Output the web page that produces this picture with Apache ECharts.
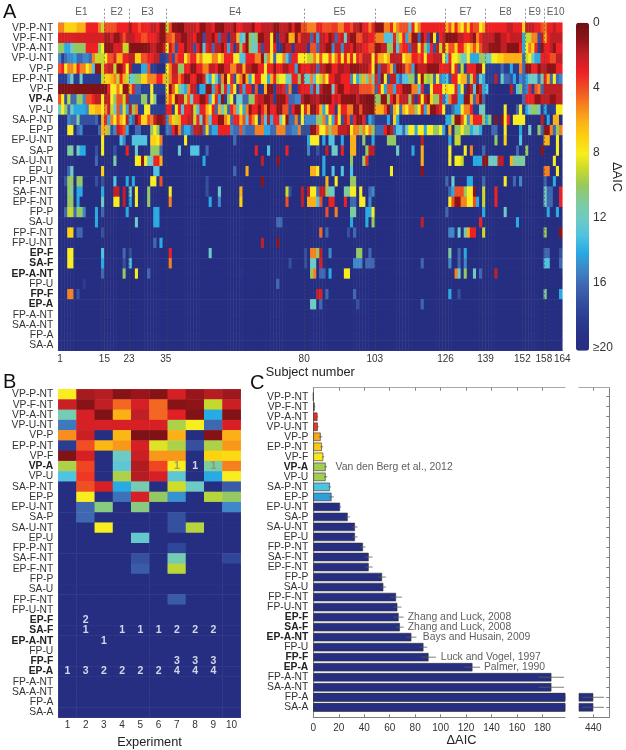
<!DOCTYPE html>
<html><head><meta charset="utf-8">
<script src="https://cdn.jsdelivr.net/npm/echarts@6/dist/echarts.min.js"></script>
<style>html,body{margin:0;padding:0;background:#fff}#c{width:626px;height:750px}</style>
</head><body><div id="c"></div>
<script>
// ---------- shared categories ----------
const models = ['VP-P-NT','VP-F-NT','VP-A-NT','VP-U-NT','VP-P','EP-P-NT','VP-F','VP-A','VP-U','SA-P-NT','EP-P','EP-U-NT','SA-P','SA-U-NT','EP-U','FP-P-NT','SA-F-NT','EP-F-NT','FP-P','SA-U','FP-F-NT','FP-U-NT','EP-F','SA-F','EP-A-NT','FP-U','FP-F','EP-A','FP-A-NT','SA-A-NT','FP-A','SA-A'];
const boldModels = ['VP-A','EP-F','SA-F','EP-A-NT','FP-F','EP-A'];
const experimentEnds = [0,15,23,35,80,103,126,139,152,158,164];
const experimentNames = ['E1','E2','E3','E4','E5','E6','E7','E8','E9','E10'];
const subjectTicks = [1,15,23,35,80,103,126,139,152,158,164];
const colorbarTicks = [0,4,8,12,16,20];

// ---------- panel A: each row is [firstSubject, dAIC] runs; a run lasts until the next one starts ----------
const rVPPNT=[[1,5],[3,7],[7,6],[10,3],[14,5],[15,9],[16,4],[20,3],[24,1.5],[25,3],[27,4],[28,3],[31,2],[33,3],[34,1],[36,9],[37,4],[38,1],[40,0.5],[42,2],[46,3],[47,1],[49,2],[51,3],[52,1],[54,0.8],[55,2],[58,1],[59,3],[61,2],[64,1],[65,3],[67,2],[71,1],[73,2],[76,1],[77,3],[78,1],[80,4],[82,5],[85,3],[87,4],[90,3.5],[92,5],[94,3],[96,4],[97,2],[99,1],[100,3],[102,5],[103,3],[104,1],[107,5],[109,3],[110,7],[111,5],[112,4],[115,13],[116,3],[117,8],[118,5],[119,3],[127,6],[128,4],[129,7],[130,3],[131,6],[132,8],[133,4],[134,7],[135,3],[136,4],[138,8],[139,6],[140,3],[147,2],[149,3],[152,7],[153,2],[156,3],[158,4],[159,5],[160,3],[162,2],[163,3]];
const rVPFNT=[[1,2.5],[16,1.5],[18,2.5],[19,1],[21,2],[22,4],[23,2],[26,3],[28,4],[30,3],[33,2],[34,1],[36,4],[38,5],[39,2],[41,1],[43,2],[45,3],[46,1],[48,17],[49,2],[51,1],[52,3],[53,16],[54,2],[56,18],[57,2],[59,6],[60,13],[61,12],[62,1],[63,10],[64,12],[65,10],[66,1],[68,2],[70,8],[71,1],[72,18],[73,2],[75,1],[76,6],[78,1],[79,4],[80,2],[83,16],[84,2],[85,14],[86,2],[88,3],[89,1],[90,2],[91,16],[92,3],[93,2],[94,12],[95,2],[96,1],[98,4],[100,2],[102,3],[104,5],[107,13],[110,3],[111,10],[112,7],[113,3],[114,14],[115,5],[116,1],[118,16],[119,1],[120,3],[121,17],[122,1],[123,8],[124,18],[125,3],[126,2],[127,0.5],[129,1],[131,2],[133,3],[135,2],[136,1],[137,5],[138,3],[139,2],[143,1],[145,2],[147,3],[148,2],[152,14],[153,9],[155,5],[157,17],[158,2],[159,6],[160,3],[161,2]];
const rVPANT=[[1,10],[3,14],[5,12],[6,10],[10,3],[14,10],[15,8],[16,1],[19,2.5],[22,9],[24,1],[25,0.7],[30,1],[31,2],[33,1],[35,2],[36,8],[37,2],[38,4],[39,17],[40,3],[42,1],[43,2],[45,17],[46,3],[47,1],[48,13],[49,3],[50,2],[51,16],[52,2],[54,1],[55,3],[56,14],[57,3],[58,18],[59,2],[60,10],[61,3],[62,1],[63,10],[64,12],[66,3],[67,17],[68,2],[70,8],[71,3],[72,18],[74,1],[75,2],[77,18],[78,2],[80,2],[82,18],[83,4],[85,16],[86,2],[88,1],[90,15],[91,2],[93,15],[94,2],[96,3],[97,1],[98,2],[100,3],[102,4],[104,1],[106,2],[108,10],[110,2],[111,13],[112,4],[113,3],[115,16],[116,2],[118,8],[119,3],[120,10],[121,14],[122,3],[123,17],[124,2],[125,9],[126,2],[127,7],[128,4],[130,7],[131,3],[133,6],[134,8],[135,6],[136,4],[137,7],[138,4],[139,2],[141,1],[145,2],[147,0.8],[151,3],[152,14],[153,8],[154,5],[155,7],[156,3],[157,18],[158,1],[159,3],[161,2],[162,1],[163,3]];
const rVPUNT=[[1,15],[2,18],[3,16],[4,15],[6,14],[7,16],[9,15],[11,16],[12,5],[13,9],[16,8],[17,4],[19,2.5],[20,6],[22,3],[24,2],[26,7],[28,4],[30,3],[32,2],[34,18],[36,17],[37,3],[38,17],[39,4],[40,3],[42,8],[43,5],[44,3],[46,7],[47,5],[48,8],[51,5],[53,8],[54,6],[55,3],[58,8],[60,13],[62,3],[65,5],[67,1],[68,11],[69,5],[70,8],[71,16],[72,8],[74,5],[75,13],[76,16],[77,3],[79,8],[82,9],[84,5],[85,8],[86,4],[87,8],[89,4],[90,8],[91,5],[92,3],[93,8],[94,3],[95,7],[96,3],[97,8],[98,3],[99,4],[100,2],[103,8],[104,3],[105,6],[107,8],[108,6],[109,2],[113,8],[114,6],[116,3],[118,4],[119,3],[120,8],[121,3],[123,2],[126,8],[127,13],[128,3],[129,8],[131,9],[132,12],[134,8],[135,14],[138,10],[140,12],[142,8],[144,7],[146,6],[152,16],[153,9],[154,8],[155,12],[156,14],[158,3],[161,4],[163,2]];
const rVPP=[[1,4],[2,3],[3,8],[4,5],[6,7],[7,3],[8,5],[10,8],[11,6],[12,13],[13,1],[15,9],[16,3],[17,2],[19,9],[20,1],[22,3],[23,8],[24,2],[25,18],[28,14],[30,4],[31,18],[33,20],[36,8],[37,5],[38,2],[40,10],[42,3],[44,1],[46,3],[48,5],[50,2],[52,3],[53,1],[55,2.5],[57,5],[59,2],[61,6],[62,2],[64,1],[66,3],[68,8],[69,3],[71,1],[72,3],[74,1.5],[76,3],[78,14],[79,1.5],[80,3],[83,2],[85,16],[86,2],[88,1],[90,3],[92,1.5],[94,2],[96,1],[99,1.5],[102,3],[103,8],[104,1],[105,16],[106,2],[108,4],[109,6],[110,16],[111,1],[113,2],[114,5],[115,4],[116,14],[117,1],[118,2],[121,1],[125,3],[128,2],[129,8],[130,3],[131,17],[132,9],[133,18],[134,3],[137,1],[139,8],[140,18],[145,16],[146,18],[148,14],[149,18],[151,5],[152,16],[153,1],[155,3],[157,1],[158,2],[160,1],[163,3]];
const rEPPNT=[[1,18],[4,15],[5,12],[6,18],[8,12],[9,18],[15,9],[16,7],[18,6],[19,5],[20,9],[21,3],[22,6],[23,9],[24,12],[26,10],[28,7],[30,5],[33,3],[35,6],[36,9],[37,5],[38,2.5],[40,5],[41,3],[42,1],[44,3],[46,1],[48,2.5],[49,12],[50,14],[51,8],[52,12],[53,16],[54,5],[55,1],[56,8],[57,3],[58,17],[59,7],[60,5],[61,1],[62,6],[63,14],[64,8],[65,3],[67,8],[69,14],[70,6],[71,3],[72,9],[73,8],[75,12],[77,3],[79,10],[80,2],[81,12],[83,5],[84,13],[85,8],[86,9],[87,5],[88,8],[89,3],[91,1.5],[93,3],[96,15],[97,8],[98,14],[99,10],[100,6],[101,11],[102,5],[103,11],[104,3],[105,16],[106,1],[107,8],[108,17],[109,2],[111,14],[112,16],[113,13],[115,10],[117,18],[118,8],[119,1],[120,9],[121,10],[122,9],[123,16],[124,8],[125,15],[126,14],[127,13],[128,17],[129,3],[131,8],[132,6],[134,16],[135,9],[136,3],[137,17],[138,12],[139,14],[140,18],[143,2],[144,18],[145,12],[146,16],[148,17],[149,14],[150,18],[151,15],[152,16],[153,14],[154,12],[157,16],[158,11],[159,3],[160,6],[161,16],[162,8],[163,16],[164,15]];
const rVPF=[[1,0.5],[17,3],[18,8],[20,5],[21,8],[22,1],[24,6],[25,3],[26,16],[28,18],[31,8],[32,18],[36,8],[37,1],[38,4],[39,8],[40,10],[41,13],[42,14],[43,5],[44,2],[46,18],[47,14],[49,1],[51,14],[52,4],[53,2],[54,10],[55,3],[56,14],[57,4],[58,8],[59,18],[60,3],[61,14],[62,3],[64,18],[65,4],[66,18],[68,6],[69,1],[71,18],[72,2],[74,3],[75,16],[76,5],[77,18],[79,2],[80,3],[83,15],[84,2],[85,13],[86,2],[87,1],[90,12],[91,3],[92,1],[94,3],[96,2],[99,4],[103,5],[104,16],[105,3],[106,8],[107,14],[108,4],[110,14],[111,3],[113,1],[116,5],[118,13],[119,3],[120,18],[122,8],[123,3],[126,8],[127,7],[128,8],[130,3],[131,14],[132,8],[133,18],[134,1],[135,2],[136,13],[137,1],[138,2],[139,14],[140,13],[141,20],[148,2],[149,18],[150,13],[151,10],[152,16],[153,15],[154,3],[155,18],[156,4],[157,5],[158,16],[159,2]];
const rVPA=[[1,4],[2,8],[3,17],[4,9],[5,16],[7,10],[9,15],[10,4],[12,3],[13,2],[15,8],[16,2],[18,8],[19,10],[20,4],[22,9],[23,2],[24,17],[28,10],[30,18],[31,8],[32,11],[33,20],[36,6],[37,4],[38,7],[39,1],[40,2],[42,9],[43,4],[44,12],[45,3],[47,1],[49,3],[50,14],[51,8],[52,3],[53,14],[54,1],[55,18],[56,10],[57,8],[58,18],[59,12],[61,16],[63,10],[65,3],[66,2],[68,1],[70,2],[71,18],[72,1],[75,3],[76,16],[78,15],[80,2],[81,0.8],[83,1.5],[85,2],[86,1],[87,0.7],[90,3],[91,2],[92,3],[93,1],[96,0.7],[98,2],[99,1],[101,0.5],[104,10],[106,1],[108,10],[109,3],[110,1],[111,5],[112,2],[115,10],[116,2],[117,18],[118,2],[119,8],[120,2],[121,1],[122,7],[123,10],[125,3],[126,16],[127,13],[128,5],[129,2],[131,14],[133,1],[135,6],[136,16],[137,4],[138,1],[139,16],[140,20],[152,16],[153,3],[156,1],[158,2],[161,1],[163,2]];
const rVPU=[[1,12],[2,8],[3,10],[4,16],[5,12],[6,14],[10,15],[11,7],[13,6],[15,8],[16,5],[17,2],[18,9],[19,12],[20,4],[21,15],[22,7],[23,14],[24,2],[25,10],[26,5],[27,18],[29,8],[31,18],[36,3],[38,18],[39,8],[40,3],[41,13],[42,3],[44,2],[45,9],[46,13],[47,3],[49,6],[50,8],[51,3],[52,16],[53,6],[54,12],[55,9],[56,16],[57,3],[58,5],[59,13],[60,8],[61,14],[62,5],[63,1],[64,3],[66,1],[67,3],[68,5],[69,1],[70,3],[72,1],[74,4],[76,17],[77,3],[78,1],[80,8],[81,3],[82,6],[83,1],[85,3],[86,6],[87,14],[88,8],[89,3],[91,18],[92,7],[93,3],[95,5],[97,1],[99,4],[100,1],[102,0.7],[104,6],[107,4],[108,1],[109,17],[110,6],[111,8],[112,16],[113,6],[114,8],[115,5],[117,10],[118,8],[119,3],[120,14],[121,6],[122,1],[124,2],[125,3],[126,8],[127,18],[129,16],[130,14],[132,8],[133,5],[135,3],[136,18],[138,12],[140,20],[146,8],[147,20],[150,16],[151,8],[152,18],[153,14],[154,12],[155,10],[157,12],[158,18],[159,14],[160,18],[163,8]];
const rSAPNT=[[1,20],[4,15],[5,16],[7,11],[8,17],[13,16],[14,20],[15,6],[16,3],[17,14],[18,5],[19,8],[20,4],[21,6],[22,8],[23,2],[24,14],[25,16],[26,1],[27,3],[28,7],[30,4],[31,5],[32,2],[33,1],[35,1.5],[36,15],[37,5],[38,7],[39,9],[40,6],[41,3],[43,2],[45,9],[46,3],[47,12],[48,2],[49,5],[50,13],[51,3],[53,1],[55,5],[56,7],[57,16],[58,3],[60,6],[61,4],[62,13],[63,3],[64,5],[65,8],[66,18],[67,4],[68,13],[69,2],[70,14],[71,3],[73,12],[74,8],[75,1],[76,16],[78,5],[79,17],[80,8],[81,15],[85,10],[87,5],[88,15],[89,8],[90,14],[91,3],[92,8],[93,17],[94,2],[95,4],[96,17],[97,3],[98,1],[100,3],[101,18],[102,14],[103,16],[104,18],[108,14],[109,18],[110,7],[111,14],[112,20],[127,14],[129,9],[130,1],[132,4],[133,8],[134,15],[135,6],[136,3],[139,10],[140,14],[141,10],[142,20],[143,1],[144,20],[145,1],[146,8],[147,3],[148,20],[149,8],[153,20],[158,2],[159,20],[160,14],[161,20],[162,6],[164,20]];
const rEPP=[[1,20],[4,8],[6,20],[7,16],[8,15],[9,20],[14,16],[15,6],[17,10],[18,17],[19,15],[20,2],[21,3],[22,4],[23,14],[24,20],[26,16],[28,20],[31,10],[32,8],[33,10],[34,20],[36,15],[37,16],[38,3],[39,1],[40,5],[41,16],[42,14],[44,16],[45,2],[47,1.5],[48,16],[49,7],[50,16],[51,14],[53,3],[57,15],[58,16],[60,4],[61,15],[62,16],[65,5],[68,14],[70,16],[72,5],[75,16],[77,15],[79,5],[80,17],[83,1],[85,4],[86,8],[88,5],[89,10],[90,5],[92,2],[95,1.5],[96,8],[97,5],[99,10],[100,5],[101,8],[102,5],[103,10],[104,16],[107,3],[108,1],[109,2],[110,16],[111,13],[113,16],[114,12],[115,8],[117,14],[118,8],[120,14],[121,8],[123,10],[125,8],[126,14],[127,20],[128,6],[129,20],[130,10],[132,8],[133,10],[135,14],[136,12],[138,14],[139,20],[142,16],[144,20],[146,8],[147,20],[151,14],[152,20],[154,12],[155,20],[157,10],[158,16],[159,1],[161,5],[162,16],[163,10],[164,5]];
const rEPUNT=[[15,8],[16,20],[21,13],[22,15],[23,20],[25,13],[30,20],[31,7],[33,8],[34,5],[35,20],[42,8],[43,20],[58,16],[59,20],[82,14],[83,8],[86,20],[87,14],[88,20],[89,13],[91,20],[93,14],[94,20],[96,6],[98,20],[100,10],[101,20],[103,14],[104,20],[108,10],[111,20],[119,2],[120,20],[128,14],[129,20],[130,9],[132,20],[143,10],[144,20],[146,7],[147,20],[151,13],[152,20],[159,6],[161,20],[163,8],[164,20]];
const rSAP=[[4,11],[6,20],[7,12],[8,14],[10,20],[13,17],[14,20],[15,8],[16,20],[19,17],[20,20],[23,3],[24,20],[26,12],[27,20],[31,10],[34,16],[35,20],[40,12],[41,20],[44,13],[47,20],[49,16],[50,20],[65,3],[66,20],[69,13],[70,20],[75,3],[76,20],[82,15],[83,20],[85,17],[86,20],[88,2],[89,20],[90,12],[92,20],[93,3],[94,20],[96,6],[98,20],[101,10],[102,2],[104,20],[111,12],[112,20],[116,14],[117,20],[119,6],[120,20],[128,8],[129,20],[133,8],[134,20],[135,5],[136,20],[139,16],[140,20],[150,16],[151,20],[153,10],[154,20],[158,1],[159,20],[163,8],[164,20]];
const rSAUNT=[[13,16],[14,20],[19,11],[20,20],[26,8],[28,1],[29,8],[30,12],[32,3],[34,6],[35,20],[48,14],[49,20],[67,2],[68,20],[72,1],[73,20],[87,14],[88,20],[96,10],[97,20],[100,10],[101,3],[102,20],[119,6],[120,20],[128,8],[129,20],[130,8],[132,9],[133,20],[136,14],[139,1],[141,12],[144,2],[146,20],[148,6],[149,11],[153,20],[162,8],[163,20]];
const rEPU=[[4,16],[5,12],[6,20],[15,7],[16,20],[32,13],[34,20],[58,16],[59,20],[62,6],[63,20],[83,6],[85,8],[86,20],[87,14],[88,20],[90,13],[91,20],[93,13],[94,20],[96,13],[97,20],[109,8],[110,20],[119,1],[120,20],[159,5],[161,20],[163,8],[164,20]];
const rFPPNT=[[3,17],[4,10],[6,20],[7,10],[9,20],[13,17],[14,20],[15,17],[16,20],[19,13],[20,20],[23,14],[24,20],[25,14],[26,20],[31,8],[33,20],[34,4],[35,20],[49,17],[50,20],[67,1],[68,20],[88,6],[89,20],[91,8],[92,20],[96,10],[98,20],[127,16],[128,20],[129,12],[130,20],[134,14],[136,20],[139,16],[140,20],[146,8],[147,20],[149,16],[150,20],[151,15],[152,20],[159,16],[160,20],[162,14],[163,20]];
const rSAFNT=[[4,10],[5,11],[6,20],[7,14],[9,20],[15,14],[16,20],[19,2],[21,20],[22,2],[23,20],[24,12],[25,20],[26,8],[27,20],[30,10],[31,20],[37,8],[38,20],[49,17],[50,20],[53,12],[54,20],[60,6],[61,20],[75,9],[76,17],[77,20],[80,2],[81,20],[82,2],[83,8],[85,16],[86,2],[88,10],[89,12],[91,20],[94,11],[96,8],[98,20],[99,8],[100,20],[102,16],[103,15],[104,20],[128,16],[129,14],[130,4],[133,10],[134,8],[136,1],[137,20],[139,9],[140,20],[143,3],[144,20],[159,12],[160,16],[162,20],[164,3]];
const rEPFNT=[[4,10],[6,20],[7,14],[8,20],[15,12],[16,20],[19,8],[21,20],[22,2],[23,20],[24,14],[25,20],[26,8],[27,20],[30,10],[31,20],[37,5],[38,20],[50,14],[51,20],[53,15],[54,20],[60,7],[61,20],[75,4],[76,20],[80,2],[81,20],[82,6],[85,13],[86,4],[87,20],[89,3],[91,20],[94,3],[95,20],[96,16],[98,20],[99,8],[101,20],[102,15],[103,20],[128,8],[129,4],[130,1],[132,5],[134,8],[136,4],[137,14],[138,20],[139,9],[140,20],[143,3],[144,20],[159,12],[160,16],[162,20],[164,3]];
const rFPP=[[3,16],[4,9],[6,16],[7,10],[9,15],[10,20],[13,14],[14,20],[15,16],[16,20],[23,14],[24,20],[32,14],[34,20],[88,4],[89,20],[91,5],[92,20],[96,11],[98,20],[101,14],[103,8],[104,20],[127,16],[128,20],[139,14],[140,20],[146,12],[147,20],[160,14],[161,20],[163,14],[164,20]];
const rSAU=[[13,14],[14,20],[26,12],[27,20],[32,14],[34,20],[72,16],[74,20],[96,14],[97,20],[101,14],[102,20],[103,10],[104,20],[119,2],[120,20],[138,3],[139,20],[150,14],[151,20]];
const rFPFNT=[[4,7],[6,20],[7,16],[9,20],[15,17],[16,20],[86,4.5],[87,20],[88,16],[89,20],[95,17],[96,20],[97,16],[98,20],[128,15],[130,20],[131,12],[132,20],[133,12],[134,6],[135,3],[137,20],[139,9],[140,20],[159,10],[160,20],[164,1]];
const rFPUNT=[[32,16],[33,20],[34,14],[35,20],[67,2],[68,20],[72,1],[73,20]];
const rEPF=[[4,8],[6,20],[15,13],[16,20],[22,16],[23,20],[24,17],[25,20],[37,3],[38,20],[50,12],[51,20],[81,17],[82,20],[83,5],[85,10],[86,2],[87,20],[89,15],[90,20],[98,10],[100,20],[102,16],[103,20],[128,11],[129,20],[131,16],[132,20],[133,14],[134,20],[159,16],[161,20],[164,17]];
const rSAF=[[4,8],[6,20],[15,14],[16,20],[22,17],[23,20],[24,13],[25,20],[37,5],[38,20],[76,17],[77,20],[81,17],[82,20],[83,12],[85,20],[86,2.5],[87,20],[97,15],[100,20],[101,16],[104,20],[119,16],[120,20],[128,15],[129,20],[131,16],[132,20],[133,15],[134,20],[159,13],[161,20],[164,16]];
const rEPANT=[[15,16],[16,20],[22,10],[23,20],[26,8],[27,20],[30,16],[31,20],[60,19],[61,20],[83,10],[84,5],[85,20],[86,16],[88,20],[89,14],[90,20],[94,8],[96,20],[130,5],[131,12],[132,20],[133,10],[134,20],[136,12],[137,20],[138,16],[139,20],[143,2],[144,20]];
const rFPU=[[9,18],[10,20],[72,16],[73,20]];
const rFPF=[[4,5],[6,20],[7,17],[8,20],[85,2],[86,2.5],[87,20],[88,16],[89,20],[97,16],[98,20],[128,14],[129,20],[131,17],[132,20],[159,11],[160,20],[164,14]];
const rEPA=[[83,12],[85,20],[86,16],[87,20],[98,17],[99,20],[119,16],[120,20]];
const rEmpty=[];
const subjectRows=[rVPPNT,rVPFNT,rVPANT,rVPUNT,rVPP,rEPPNT,rVPF,rVPA,rVPU,rSAPNT,rEPP,rEPUNT,rSAP,rSAUNT,rEPU,rFPPNT,rSAFNT,rEPFNT,rFPP,rSAU,rFPFNT,rFPUNT,rEPF,rSAF,rEPANT,rFPU,rFPF,rEPA,rEmpty,rEmpty,rEmpty,rEmpty];

// ---------- panel B: dAIC per experiment (row by row), 20 = off-scale ----------
const bE=20;
const expVPPNT=[8,1.5,1.8,0.8,1.2,0.8,2.5,1.2,1.8,1.3];
const expVPFNT=[2.2,0.8,2,4.5,2.5,4.5,0.8,1,9,2.2];
const expVPANT=[11.5,2.5,0.5,6,2,4.5,2.7,0.6,14,0.6];
const expVPUNT=[15.5,2.5,2.5,2.5,2.5,2.5,9.5,8,16,2.5];
const expVPP=[5.3,2.2,bE,6.2,0.5,0.5,6,bE,0.7,6];
const expEPPNT=[18,4,6.2,5.5,2.5,8.5,9.5,17,9.5,5.5];
const expVPF=[0.6,2.5,bE,12,2.2,5.5,5.5,bE,7,7.3];
const expVPA=[9.5,3.8,bE,12.5,1.7,3.8,8,bE,11,5];
const expVPU=[13,3.5,bE,9.5,1.8,2.5,12.5,bE,14,8];
const expSAPNT=[bE,4,2.5,14,11.5,bE,8.8,12,bE,16.5];
const expEPP=[bE,8,bE,15.7,2.5,10,14.7,bE,9.3,10];
const expEPUNT=[bE,16,10.5,bE,10.5,bE,bE,bE,bE,15];
const expSAP=[bE,16,bE,bE,bE,bE,17,bE,bE,bE];
const expSAUNT=[bE,bE,8,bE,bE,bE,17,9.3,bE,bE];
const expEPU=[bE,bE,bE,bE,12.3,bE,bE,bE,bE,bE];
const expFPPNT=[bE,bE,bE,bE,bE,bE,17.5,bE,bE,bE];
const expSAFNT=[bE,bE,bE,bE,17,bE,11.5,bE,bE,17.5];
const expEPFNT=[bE,bE,bE,bE,16.5,bE,9.2,bE,bE,bE];
const expFPFNT=[bE,bE,bE,bE,bE,bE,16.5,bE,bE,bE];
const expRest=[bE,bE,bE,bE,bE,bE,bE,bE,bE,bE];
const experimentRows=[expVPPNT,expVPFNT,expVPANT,expVPUNT,expVPP,expEPPNT,expVPF,expVPA,expVPU,expSAPNT,expEPP,expEPUNT,expSAP,expSAUNT,expEPU,expFPPNT,expSAFNT,expEPFNT,expRest,expRest,expFPFNT,expRest,expRest,expRest,expRest,expRest,expRest,expRest,expRest,expRest,expRest,expRest];
const experiments=['1','2','3','4','5','6','7','8','9','10'];
// [model, experiment number, rank text]
const rankLabels=[['VP-A',8,'1'],['EP-F',2,'2'],['SA-F',2,'1'],['SA-F',4,'1'],['SA-F',5,'1'],['SA-F',6,'1'],['SA-F',7,'2'],['SA-F',8,'2'],['SA-F',9,'2'],['EP-A-NT',3,'1'],['FP-F',7,'3'],['FP-F',8,'3'],['FP-F',9,'3'],['EP-A',1,'1'],['EP-A',2,'3'],['EP-A',3,'2'],['EP-A',4,'2'],['EP-A',5,'2'],['EP-A',6,'2'],['EP-A',7,'4'],['EP-A',8,'4'],['EP-A',9,'4']];
const fadedRankLabels=[['VP-A',7,'1'],['VP-A',9,'1']];

// ---------- panel C: mean dAIC and s.e.m., in model order ----------
const meanAIC=[0,1,3.3,3.5,5.8,6.7,7.8,9.7,9.7,13,14.3,21,27,32.7,32.7,39,43.5,43.5,54,55,65,66,67,68,77,86.5,90.5,125,187,187,440,440];
const semAIC=[0,0.6,0.5,0.8,1.3,1,0.8,1,1.3,1,1.8,0.8,1.8,2,2,2,3,3,3,2,4.5,3.2,4,3,4,3,5.8,6,10,10,8.4,8.4];
const citations=[['VP-A',17.5,'Van den Berg et al., 2012'],['EP-F',74.2,'Zhang and Luck, 2008'],['SA-F',74.2,'Zhang and Luck, 2008'],['EP-A-NT',86,'Bays and Husain, 2009'],['FP-F',100.2,'Luck and Vogel, 1997'],['EP-A',134,'Palmer, 1990']];

// ---------- colours ----------
const jetStops=['#6d1015','#8e1418','#c01f25','#ed2024','#f04e23','#f58020','#fbb016','#fdd20e','#f8ed1f','#c5d92d','#94c862','#7ecba0','#6dcac5','#4fc3e0','#29aae2','#3e87c8','#3f68b1','#34509f','#2b3d92','#283287','#262e82'];
const navy='#262e82';
const ink='#333333';
const FONT='"Liberation Sans",Arial,sans-serif';
const AXISGREY='#808080';

// ---------- build ----------
const subjects=Array.from({length:164},(_,i)=>String(i+1));
function expandRuns(runs){
  const out=new Array(164).fill(20);
  runs.forEach((r,i)=>{const end=i+1<runs.length?runs[i+1][0]-1:(r[1]===20?r[0]:164);for(let c=r[0];c<=end;c++)out[c-1]=r[1];});
  return out;
}
const subjectData=[];
subjectRows.forEach((runs,row)=>expandRuns(runs).forEach((v,col)=>subjectData.push([col,row,v])));
const experimentData=[];
experimentRows.forEach((vals,row)=>vals.forEach((v,col)=>experimentData.push([col,row,v])));
const rankPoint=r=>[r[1]-1,models.indexOf(r[0]),r[2]];
const boldableLabels=models.map(m=>boldModels.includes(m)?{value:m,textStyle:{fontWeight:'bold',color:'#222'}}:m);
const expCentres=experimentNames.map((n,i)=>({value:[(experimentEnds[i]+experimentEnds[i+1])/2,338.5,n],label:{offset:[n==='E10'?2.5:0,0]}}));
// where the two end labels of the subject axis sit: at the cell, and nudged clear of its neighbour
const subjectLabelAnchors=subjectTicks.map(t=>t===1?0.6:t===152?151:t);

const G={a:{left:58.3,top:22.7,width:504,height:328},
  over:{left:58.3,top:8,width:504,height:342.7},
  bar:{left:576,top:22.7,width:13,height:328},
  b:{left:58.3,top:389.3,width:182.4,height:328.4},
  fl:{left:313.3,top:387.7,width:251.7,height:329.6},
  fr:{left:579,top:387.7,width:30.3,height:329.6},
  cl:{left:313.3,top:391.7,width:251.7,height:320.6},
  cr:{left:579,top:391.7,width:30.3,height:320.6}};
const scaleL=[0,197.7], scaleR=[428.8,452.6], cTicksL=[0,20,40,60,80,100,120,140,160,180], cTicksR=[440];
const catY=(grid,extra)=>Object.assign({type:'category',gridIndex:grid,data:boldableLabels,inverse:true,axisLine:{show:false},axisTick:{show:false},splitLine:{show:false},
   axisLabel:{show:true,interval:0,fontFamily:FONT,fontSize:10.3,color:ink,margin:5}},extra||{});
const hiddenValue=(grid,range)=>({type:'value',gridIndex:grid,min:range[0],max:range[1],show:false,splitLine:{show:false}});
const frameX=(grid,range,ticks,pos,labels)=>({type:'value',gridIndex:grid,position:pos,min:range[0],max:range[1],splitLine:{show:false},
   axisLine:{show:true,onZero:false,lineStyle:{color:pos==='top'?'#a8a8a8':AXISGREY,width:pos==='top'?1.2:1}},
   axisTick:{show:true,inside:true,length:3,customValues:ticks,lineStyle:{color:AXISGREY}},
   axisLabel:{show:labels,customValues:ticks,fontFamily:FONT,fontSize:10,color:ink,margin:6}});
const errorSeries=(xi,yi,rows)=>({type:'custom',xAxisIndex:xi,yAxisIndex:yi,z:4,silent:true,
   data:rows.map(i=>[meanAIC[i]-semAIC[i],meanAIC[i]+semAIC[i],i]),encode:{x:[0,1],y:2},
   renderItem:(p,api)=>{const a=api.coord([api.value(0),api.value(2)]),b=api.coord([api.value(1),api.value(2)]);
     return {type:'line',shape:{x1:a[0],y1:a[1],x2:b[0],y2:b[1]},style:{stroke:'#5a5a5a',lineWidth:0.8}};}});
const allRows=models.map((_,i)=>i);
const barData=meanAIC.map((v,i)=>[v,i]);

const option={
  animation:false,backgroundColor:'#fff',textStyle:{fontFamily:FONT},
  grid:[G.a,G.over,G.bar,G.b,G.fl,G.fr,G.cl,G.cr].map(g=>Object.assign({containLabel:false},g)),
  xAxis:[
    {type:'category',gridIndex:0,data:subjects,show:false},
    {type:'value',gridIndex:1,min:0,max:164,splitLine:{show:false},axisLine:{show:true,onZero:false,lineStyle:{color:'#999'}},axisTick:{show:false},
      name:'Subject number',nameLocation:'middle',nameGap:15.5,nameTextStyle:{fontFamily:FONT,fontSize:12.7,color:'#222'},
      axisLabel:{customValues:subjectLabelAnchors,formatter:v=>String(subjectTicks[subjectLabelAnchors.indexOf(v)]),fontFamily:FONT,fontSize:10,color:ink,margin:4,hideOverlap:false}},
    {type:'value',gridIndex:2,min:0,max:1,show:false},
    {type:'category',gridIndex:3,data:experiments,axisLine:{show:false},axisTick:{show:false},
      name:'Experiment',nameLocation:'middle',nameGap:18,nameTextStyle:{fontFamily:FONT,fontSize:12.8,color:'#222'},
      axisLabel:{interval:0,fontFamily:FONT,fontSize:10,color:ink,margin:3}},
    frameX(4,scaleL,cTicksL,'bottom',true),
    frameX(4,scaleL,cTicksL,'top',false),
    frameX(5,scaleR,cTicksR,'bottom',true),
    frameX(5,scaleR,cTicksR,'top',false),
    hiddenValue(6,scaleL),
    hiddenValue(7,scaleR)
  ],
  yAxis:[
    catY(0),
    {type:'value',gridIndex:1,min:0,max:342.7,show:false,splitLine:{show:false}},
    {type:'value',gridIndex:2,position:'right',inverse:true,min:0,max:20.2,splitLine:{show:false},axisLine:{show:false},
      axisTick:{show:true,length:3,customValues:[4,8,12,16],lineStyle:{color:'#555'}},
      axisLabel:{customValues:colorbarTicks,formatter:v=>v===20?'≥20':String(v),fontFamily:FONT,fontSize:12,color:ink,margin:4,showMinLabel:true,showMaxLabel:true}},
    catY(3),
    {type:'value',gridIndex:4,min:0,max:1,position:'left',splitLine:{show:false},axisTick:{show:false},axisLabel:{show:false},axisLine:{show:true,onZero:false,lineStyle:{color:AXISGREY}}},
    {type:'value',gridIndex:5,min:0,max:1,position:'right',splitLine:{show:false},axisTick:{show:false},axisLabel:{show:false},axisLine:{show:true,onZero:false,lineStyle:{color:AXISGREY}}},
    catY(6),
    catY(7,{position:'right',axisLabel:{show:false},axisTick:{show:true,inside:true,length:3,alignWithLabel:true,interval:0,lineStyle:{color:AXISGREY}}})
  ],
  visualMap:[
    {type:'continuous',seriesIndex:[0,2],dimension:2,min:0,max:20,show:true,calculable:false,hoverLink:false,inverse:true,realtime:false,
      left:576,top:22.7,itemWidth:13,itemHeight:328,padding:0,text:null,showLabel:false,inRange:{color:jetStops},textStyle:{fontSize:0}},
    {type:'continuous',seriesIndex:[4],dimension:0,min:0,max:20,show:false,inRange:{color:jetStops},outOfRange:{color:navy}}
  ],
  series:[
    {type:'heatmap',xAxisIndex:0,yAxisIndex:0,data:subjectData,progressive:0,silent:true},
    {type:'scatter',xAxisIndex:1,yAxisIndex:1,symbolSize:0,silent:true,z:6,data:expCentres,
      label:{show:true,position:'inside',formatter:p=>p.value[2],fontFamily:FONT,fontSize:10,color:ink},
      markLine:{silent:true,symbol:'none',animation:false,label:{show:false},lineStyle:{type:[2,2],color:'#4a4a4a',width:0.8,opacity:0.75},
        data:experimentEnds.slice(1,-1).map(v=>({xAxis:v}))}},
    {type:'heatmap',xAxisIndex:3,yAxisIndex:3,data:experimentData,progressive:0,silent:true},
    {type:'scatter',xAxisIndex:3,yAxisIndex:3,symbolSize:0,silent:true,z:6,
      data:rankLabels.map(r=>({value:rankPoint(r),label:{color:'#fff'}})).concat(fadedRankLabels.map(r=>({value:rankPoint(r),label:{color:'#8a8a70'}}))),
      label:{show:true,position:'inside',formatter:p=>p.value[2],fontFamily:FONT,fontSize:10.5,fontWeight:'bold'}},
    {type:'bar',xAxisIndex:8,yAxisIndex:6,data:barData,barWidth:8.4,itemStyle:{borderColor:'#333',borderWidth:0.6},silent:true},
    errorSeries(8,6,allRows.slice(0,30)),
    {type:'scatter',xAxisIndex:8,yAxisIndex:6,symbolSize:0,silent:true,z:6,data:citations.map(c=>[c[1],models.indexOf(c[0]),c[2]]),
      label:{show:true,position:'right',distance:0,formatter:p=>p.value[2],fontFamily:FONT,fontSize:10.4,color:ink}},
    {type:'bar',xAxisIndex:9,yAxisIndex:7,data:barData.map(d=>d[0]>=scaleR[0]?d:[null,d[1]]),barWidth:8.4,itemStyle:{color:navy,borderColor:'#333',borderWidth:0.6},silent:true},
    errorSeries(9,7,[30,31]),
    {type:'bar',xAxisIndex:8,yAxisIndex:6,data:barData.map(d=>d[0]>=scaleL[1]?d:[null,d[1]]),barWidth:8.4,barGap:'-100%',itemStyle:{color:navy,borderColor:'#333',borderWidth:0.6},silent:true}
  ],
  graphic:[
    {type:'text',left:3,top:2,style:{text:'A',font:'20px '+FONT,fill:'#111'}},
    {type:'text',left:3,top:372,style:{text:'B',font:'20px '+FONT,fill:'#111'}},
    {type:'text',left:250,top:373,style:{text:'C',font:'20px '+FONT,fill:'#111'}},
    {type:'text',x:461.5,y:740,style:{text:'ΔAIC',font:'12.8px '+FONT,fill:'#222',textAlign:'center',textVerticalAlign:'middle'}},
    {type:'text',x:617,y:177,rotation:-Math.PI/2,style:{text:'ΔAIC',font:'12.8px '+FONT,fill:'#222',textAlign:'center',textVerticalAlign:'middle'}}
  ]
};
const chart=echarts.init(document.getElementById('c'),null,{renderer:'canvas'});
chart.setOption(option);
</script>
</body></html>
